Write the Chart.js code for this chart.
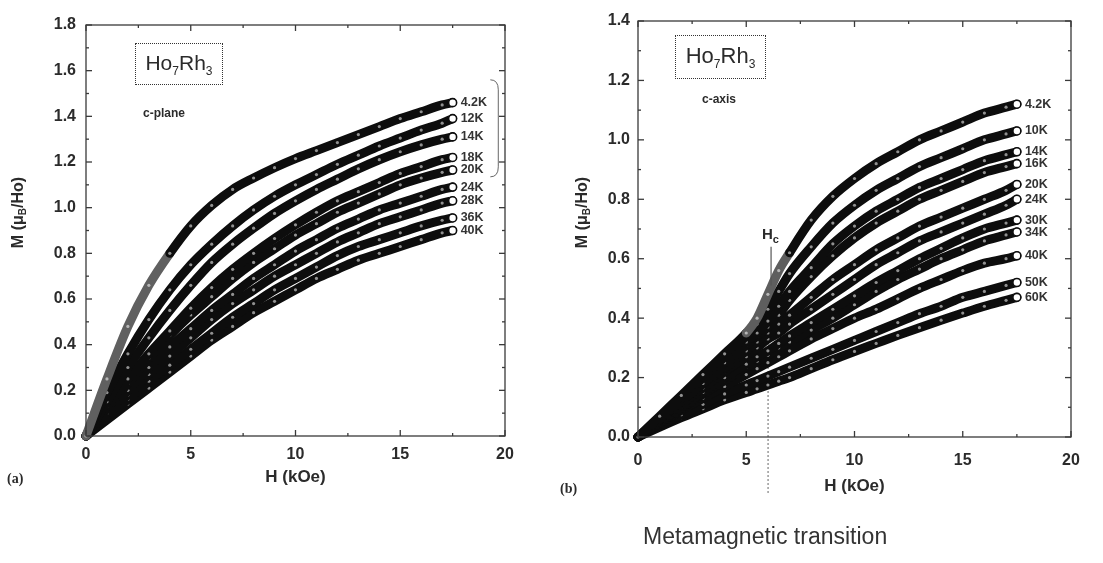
<!DOCTYPE html>
<html>
<head>
<meta charset="utf-8">
<script src="https://cdn.jsdelivr.net/npm/chart.js@4.4.0/dist/chart.umd.min.js"></script>
<style>
  body { margin: 0; background: #fff; }
  #page { position: relative; width: 1103px; height: 563px; overflow: hidden; font-family: "Liberation Sans", Arial, sans-serif; color: #2b2b2b; }
  canvas { position: absolute; top: 0; }
  #left { left: 0; }
  #right { left: 555px; }
  .txt { position: absolute; white-space: nowrap; line-height: 1; }
  .box { position: absolute; border: 1.5px dotted #333; box-sizing: border-box; font-size: 21px; text-align: center; }
  .box sub { font-size: 12px; vertical-align: -5px; }
  .ylab { position: absolute; transform: rotate(-90deg); transform-origin: center; font-weight: bold; font-size: 16px; white-space: nowrap; }
  .ylab sub { font-size: 10px; vertical-align: -3px; }
  .panel { position: absolute; font-family: "Liberation Serif", serif; font-weight: bold; font-size: 14px; }
</style>
</head>
<body>
<div id="page">
  <canvas id="left" width="555" height="563"></canvas>
  <canvas id="right" width="548" height="563"></canvas>

  <div class="box" style="left:135px; top:43px; width:88px; height:42px; line-height:38px;">Ho<sub>7</sub>Rh<sub>3</sub></div>
  <div class="txt" style="left:143px; top:107px; font-size:12px; font-weight:bold;">c-plane</div>
  <div class="box" style="left:675px; top:35px; width:91px; height:44px; line-height:40px; font-size:22px;">Ho<sub>7</sub>Rh<sub>3</sub></div>
  <div class="txt" style="left:702px; top:93px; font-size:12px; font-weight:bold;">c-axis</div>

  <div class="ylab" style="left:-32px; top:203px; width:100px; text-align:center;">M (μ<sub>B</sub>/Ho)</div>
  <div class="ylab" style="left:532px; top:203px; width:100px; text-align:center;">M (μ<sub>B</sub>/Ho)</div>

  <div class="txt" style="left:762px; top:226px; font-size:15px; font-weight:bold;">H<sub style="font-size:11px;">c</sub></div>

  <div class="panel" style="left:7px; top:471px;">(a)</div>
  <div class="panel" style="left:560px; top:481px;">(b)</div>
  <div class="txt" style="left:643px; top:525px; font-size:23px; color:#333;">Metamagnetic transition</div>
</div>

<script>
// Field points (kOe) used for every sweep in each panel
const fieldPlane = [0, 1, 2, 3, 4, 5, 6, 7, 8, 9, 10, 11, 12, 13, 14, 15, 16, 17, 17.5];
const fieldAxis = [0, 1, 2, 3, 4, 5, 5.5, 6, 6.5, 7, 8, 9, 10, 11, 12, 13, 14, 15, 16, 17, 17.5];

// (a) field in the c-plane, M in μB/Ho
const plane4K2 = [0, 0.25, 0.48, 0.66, 0.80, 0.92, 1.01, 1.08, 1.13, 1.175, 1.215, 1.25, 1.285, 1.32, 1.355, 1.39, 1.42, 1.45, 1.46];
const plane12K = [0, 0.19, 0.36, 0.51, 0.64, 0.75, 0.84, 0.92, 0.99, 1.05, 1.10, 1.145, 1.19, 1.23, 1.27, 1.305, 1.34, 1.37, 1.39];
const plane14K = [0, 0.15, 0.30, 0.43, 0.55, 0.66, 0.76, 0.84, 0.91, 0.975, 1.03, 1.08, 1.125, 1.17, 1.21, 1.245, 1.275, 1.30, 1.31];
const plane18K = [0, 0.13, 0.25, 0.36, 0.46, 0.56, 0.65, 0.73, 0.80, 0.865, 0.925, 0.98, 1.03, 1.07, 1.11, 1.15, 1.18, 1.21, 1.22];
const plane20K = [0, 0.12, 0.23, 0.34, 0.44, 0.53, 0.61, 0.69, 0.76, 0.82, 0.88, 0.93, 0.98, 1.02, 1.06, 1.10, 1.13, 1.155, 1.165];
const plane24K = [0, 0.10, 0.20, 0.30, 0.39, 0.47, 0.55, 0.62, 0.69, 0.75, 0.81, 0.86, 0.91, 0.95, 0.99, 1.02, 1.05, 1.08, 1.09];
const plane28K = [0, 0.09, 0.18, 0.27, 0.35, 0.43, 0.51, 0.58, 0.64, 0.70, 0.75, 0.80, 0.85, 0.89, 0.93, 0.96, 0.99, 1.02, 1.03];
const plane36K = [0, 0.08, 0.16, 0.24, 0.31, 0.38, 0.45, 0.52, 0.58, 0.64, 0.69, 0.74, 0.79, 0.83, 0.86, 0.89, 0.92, 0.945, 0.955];
const plane40K = [0, 0.07, 0.14, 0.21, 0.28, 0.35, 0.42, 0.48, 0.54, 0.59, 0.64, 0.69, 0.73, 0.77, 0.80, 0.83, 0.86, 0.89, 0.90];
const planeSeries = [plane4K2, plane12K, plane14K, plane18K, plane20K, plane24K, plane28K, plane36K, plane40K];
const planeTemps = ['4.2K', '12K', '14K', '18K', '20K', '24K', '28K', '36K', '40K'];

// (b) field along the c-axis
const axis4K2 = [0, 0.07, 0.14, 0.21, 0.28, 0.35, 0.40, 0.48, 0.56, 0.62, 0.73, 0.81, 0.87, 0.92, 0.96, 1.00, 1.03, 1.06, 1.09, 1.11, 1.12];
const axis10K = [0, 0.065, 0.13, 0.20, 0.27, 0.34, 0.38, 0.43, 0.49, 0.55, 0.64, 0.72, 0.78, 0.83, 0.87, 0.91, 0.94, 0.97, 1.00, 1.02, 1.03];
const axis14K = [0, 0.06, 0.12, 0.18, 0.25, 0.32, 0.35, 0.39, 0.44, 0.49, 0.57, 0.65, 0.71, 0.76, 0.80, 0.84, 0.87, 0.90, 0.93, 0.95, 0.96];
const axis16K = [0, 0.06, 0.12, 0.18, 0.24, 0.31, 0.34, 0.37, 0.41, 0.46, 0.54, 0.61, 0.67, 0.72, 0.76, 0.80, 0.83, 0.86, 0.89, 0.91, 0.92];
const axis20K = [0, 0.06, 0.12, 0.18, 0.23, 0.29, 0.32, 0.35, 0.38, 0.41, 0.47, 0.53, 0.58, 0.63, 0.67, 0.71, 0.74, 0.77, 0.80, 0.83, 0.85];
const axis24K = [0, 0.055, 0.11, 0.165, 0.22, 0.27, 0.30, 0.33, 0.35, 0.38, 0.43, 0.48, 0.53, 0.58, 0.62, 0.66, 0.69, 0.72, 0.75, 0.78, 0.80];
const axis30K = [0, 0.05, 0.10, 0.15, 0.20, 0.245, 0.27, 0.29, 0.315, 0.34, 0.385, 0.43, 0.475, 0.52, 0.56, 0.60, 0.635, 0.67, 0.70, 0.72, 0.73];
const axis34K = [0, 0.048, 0.096, 0.144, 0.19, 0.235, 0.255, 0.275, 0.30, 0.32, 0.36, 0.40, 0.445, 0.49, 0.53, 0.565, 0.60, 0.63, 0.66, 0.68, 0.69];
const axis40K = [0, 0.045, 0.09, 0.13, 0.17, 0.21, 0.23, 0.25, 0.27, 0.29, 0.33, 0.365, 0.40, 0.43, 0.465, 0.50, 0.53, 0.56, 0.585, 0.60, 0.61];
const axis50K = [0, 0.04, 0.075, 0.11, 0.145, 0.175, 0.19, 0.205, 0.22, 0.235, 0.265, 0.295, 0.325, 0.355, 0.385, 0.415, 0.44, 0.47, 0.49, 0.51, 0.52];
const axis60K = [0, 0.033, 0.065, 0.095, 0.125, 0.15, 0.162, 0.175, 0.188, 0.20, 0.23, 0.26, 0.288, 0.315, 0.342, 0.368, 0.393, 0.417, 0.44, 0.46, 0.47];
const axisSeries = [axis4K2, axis10K, axis14K, axis16K, axis20K, axis24K, axis30K, axis34K, axis40K, axis50K, axis60K];
const axisTemps = ['4.2K', '10K', '14K', '16K', '20K', '24K', '30K', '34K', '40K', '50K', '60K'];

// critical field of the metamagnetic step (kOe)
const hcField = 6.1;

// field spans where the sparse markers read as grey instead of solid black
const planeGrey = { '4.2K': [0, 4, '#606060'] };
const axisGrey = { '4.2K': [4.5, 7.5, '#5e5e5e'] };

const ink = '#2b2b2b';
const bandColor = '#0d0d0d';

function makeDatasets(field, series, temps, grey) {
  return series.map((vals, k) => {
    const last = vals.length - 1;
    const span = grey[temps[k]];
    return {
      label: temps[k],
      data: vals.map((m, i) => ({ x: field[i], y: m })),
      showLine: true,
      borderColor: bandColor,
      borderWidth: 9,
      borderCapStyle: 'round',
      cubicInterpolationMode: 'monotone',
      clip: false,
      segment: {
        borderColor: c => (span && c.p0.parsed.x >= span[0] && c.p1.parsed.x <= span[1]) ? span[2] : bandColor
      },
      pointRadius: vals.map((m, i) => i === last ? 4 : 1.6),
      pointBorderWidth: vals.map((m, i) => i === last ? 1.6 : 0),
      pointBorderColor: bandColor,
      pointBackgroundColor: vals.map((m, i) => i === last ? '#fff' : 'rgba(255,255,255,0.55)')
    };
  });
}

// box frame with inward major/minor ticks on all four sides
const frameTicks = {
  id: 'frameTicks',
  afterDraw(chart) {
    const { ctx, chartArea: a, scales: { x, y } } = chart;
    const line = (x1, y1, x2, y2) => { ctx.beginPath(); ctx.moveTo(x1, y1); ctx.lineTo(x2, y2); ctx.stroke(); };
    ctx.save();
    ctx.strokeStyle = '#3a3a3a';
    ctx.lineWidth = 1.3;
    ctx.strokeRect(a.left, a.top, a.right - a.left, a.bottom - a.top);
    const xs = x.options.ticks.stepSize / 2;
    for (let i = 0; x.min + i * xs <= x.max + 1e-9; i++) {
      const px = x.getPixelForValue(x.min + i * xs);
      const len = i % 2 === 0 ? 6 : 3;
      line(px, a.bottom, px, a.bottom - len);
      line(px, a.top, px, a.top + len);
    }
    const ys = y.options.ticks.stepSize / 2;
    for (let i = 0; y.min + i * ys <= y.max + 1e-9; i++) {
      const py = y.getPixelForValue(y.min + i * ys);
      const len = i % 2 === 0 ? 6 : 3;
      line(a.left, py, a.left + len, py);
      line(a.right, py, a.right - len, py);
    }
    ctx.restore();
  }
};

// temperature tags to the right of each sweep's last point
const curveLabels = {
  id: 'curveLabels',
  afterDatasetsDraw(chart, args, opts) {
    const { ctx, scales: { x, y } } = chart;
    const ends = chart.data.datasets.map(ds => {
      const p = ds.data[ds.data.length - 1];
      return { text: ds.label, px: x.getPixelForValue(p.x), py: y.getPixelForValue(p.y) };
    });
    let prev = -Infinity;
    ends.forEach(e => { e.ty = Math.max(e.py, prev + opts.gap); prev = e.ty; });
    ctx.save();
    ctx.font = 'bold 12.5px "Liberation Sans", Arial, sans-serif';
    ctx.fillStyle = '#333';
    ctx.textBaseline = 'middle';
    ends.forEach(e => ctx.fillText(e.text, e.px + 8, e.ty));
    ctx.restore();
  }
};

// curly bracket grouping the low-temperature c-plane sweeps
const bracket = {
  id: 'bracket',
  afterDatasetsDraw(chart, args, opts) {
    if (!opts.show) return;
    const { ctx, scales: { x, y } } = chart;
    const x0 = x.getPixelForValue(19.3), x1 = x.getPixelForValue(19.68);
    const top = y.getPixelForValue(1.56), bot = y.getPixelForValue(1.135);
    ctx.save();
    ctx.strokeStyle = '#666';
    ctx.lineWidth = 1;
    ctx.beginPath();
    ctx.moveTo(x0, top);
    ctx.quadraticCurveTo(x1, top, x1, top + 10);
    ctx.lineTo(x1, bot - 10);
    ctx.quadraticCurveTo(x1, bot, x0, bot);
    ctx.stroke();
    ctx.restore();
  }
};

// Hc marker: dotted guide under the data, short solid bar above it
const hcMarker = {
  id: 'hcMarker',
  beforeDatasetsDraw(chart, args, opts) {
    if (!opts.show) return;
    const { ctx, scales: { x, y } } = chart;
    const px = x.getPixelForValue(hcField) - 2;
    ctx.save();
    ctx.strokeStyle = '#555';
    ctx.lineWidth = 1.2;
    ctx.setLineDash([1.5, 2.5]);
    ctx.beginPath();
    ctx.moveTo(px, y.getPixelForValue(0.45));
    ctx.lineTo(px, 495);
    ctx.stroke();
    ctx.restore();
  },
  afterDatasetsDraw(chart, args, opts) {
    if (!opts.show) return;
    const { ctx, scales: { x, y } } = chart;
    const px = x.getPixelForValue(hcField) + 1;
    ctx.save();
    ctx.strokeStyle = '#555';
    ctx.lineWidth = 1.2;
    ctx.beginPath();
    ctx.moveTo(px, y.getPixelForValue(0.64));
    ctx.lineTo(px, y.getPixelForValue(0.51));
    ctx.stroke();
    ctx.restore();
  }
};

function makePanel(id, cfg) {
  const tickFont = { family: '"Liberation Sans", Arial, sans-serif', weight: 'bold', size: 16 };
  return new Chart(document.getElementById(id), {
    type: 'scatter',
    data: { datasets: makeDatasets(cfg.field, cfg.series, cfg.temps, cfg.grey) },
    options: {
      responsive: false,
      animation: false,
      layout: { padding: cfg.padding },
      plugins: {
        legend: { display: false },
        tooltip: { enabled: false },
        curveLabels: { gap: 12 },
        bracket: { show: cfg.bracket },
        hcMarker: { show: cfg.hc }
      },
      scales: {
        x: {
          type: 'linear', min: 0, max: 20,
          grid: { display: false, drawTicks: false },
          border: { display: false },
          ticks: { stepSize: 5, color: ink, font: tickFont, padding: cfg.xPad },
          title: {
            display: true, text: 'H (kOe)', color: ink,
            font: { family: '"Liberation Sans", Arial, sans-serif', weight: 'bold', size: 17 },
            padding: { top: 0, bottom: cfg.titlePad }
          },
          afterFit: s => { s.height = cfg.xHeight; }
        },
        y: {
          type: 'linear', min: 0, max: cfg.yMax,
          grid: { display: false, drawTicks: false },
          border: { display: false },
          ticks: { stepSize: 0.2, color: ink, font: tickFont, padding: cfg.yPad, callback: v => v.toFixed(1) },
          afterFit: s => { s.width = cfg.yWidth; }
        }
      }
    },
    plugins: [frameTicks, curveLabels, bracket, hcMarker]
  });
}

makePanel('left', {
  field: fieldPlane, series: planeSeries, temps: planeTemps, grey: planeGrey, yMax: 1.8,
  padding: { left: 0, right: 50, top: 25, bottom: 0 },
  yWidth: 86, xHeight: 127, xPad: 9, yPad: 10, titlePad: 75, bracket: true, hc: false
});

makePanel('right', {
  field: fieldAxis, series: axisSeries, temps: axisTemps, grey: axisGrey, yMax: 1.4,
  padding: { left: 0, right: 32, top: 21, bottom: 0 },
  yWidth: 83, xHeight: 126, xPad: 14, yPad: 8, titlePad: 66, bracket: false, hc: true
});
</script>
</body>
</html>
